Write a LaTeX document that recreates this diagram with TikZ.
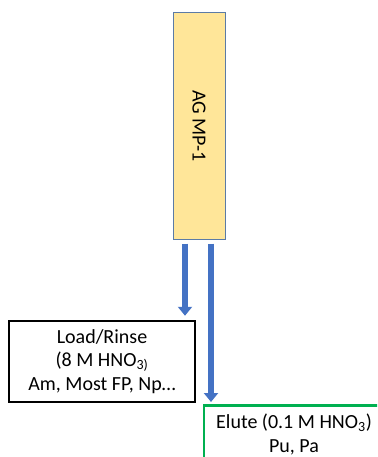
\documentclass[tikz,border=0pt]{standalone}
\usepackage{fontspec}
\setmainfont{Carlito}
\usetikzlibrary{arrows.meta}
\definecolor{colfill}{HTML}{FFE699}
\definecolor{colborder}{HTML}{5B7BA6}
\definecolor{arrblue}{HTML}{4472C4}
\definecolor{elgreen}{HTML}{00B050}
\begin{document}
\begin{tikzpicture}[x=1pt,y=-1pt,
  txt/.style={font=\fontsize{20}{23.5}\selectfont, align=center},
  arr/.style={draw=arrblue, line width=6pt, -{Triangle[width=14pt,length=9pt]}}]
\useasboundingbox (0,0) rectangle (377,457);
\clip (0,0) rectangle (377,457);
\node[draw=colborder, fill=colfill, line width=1pt, minimum width=52pt, minimum height=226pt, inner sep=0pt] (col) at (199,126) {};
\node[txt, rotate=-90] (collabel) at (col.center) {AG MP-1};
\node[draw=black, line width=2.5pt, minimum width=186pt, minimum height=81pt, inner sep=0pt, txt] (load) at (102,361.5) {Load/Rinse\\(8 M HNO\textsubscript{3)}\\Am, Most FP, Np\ldots};
\node[draw=elgreen, line width=2.5pt, minimum width=180pt, inner xsep=0pt, inner ysep=9pt, txt, anchor=north] (elute) at (294,404) {Elute (0.1 M HNO\textsubscript{3})\\Pu, Pa};
\draw[arr, shorten <=4pt, shorten >=4pt] ([xshift=-14pt]col.south) -- ([xshift=-14pt]col.south |- load.north);
\draw[arr, shorten <=4pt, shorten >=2pt] ([xshift=12pt]col.south) -- ([xshift=12pt]col.south |- elute.north);
\end{tikzpicture}
\end{document}
